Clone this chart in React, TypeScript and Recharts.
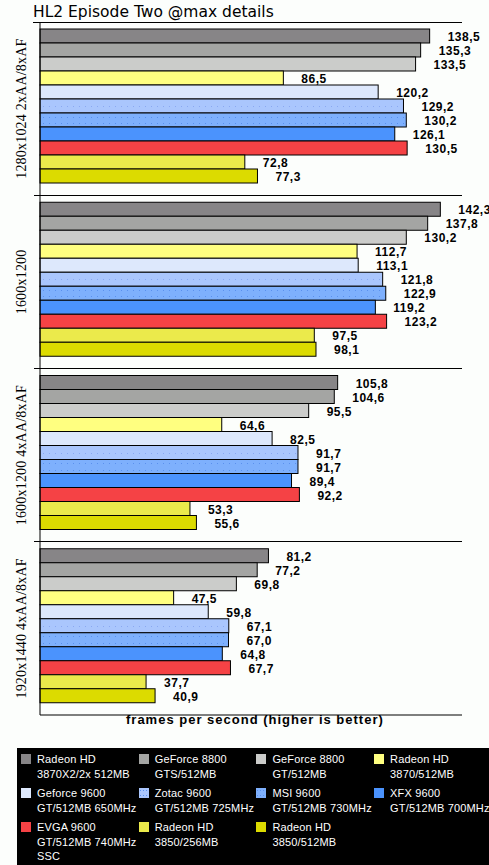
import { BarChart, Bar, XAxis, YAxis, LabelList } from "recharts";

// resolutions / settings, top to bottom
const categories = [
  "1280x1024 2xAA/8xAF",
  "1600x1200",
  "1600x1200 4xAA/8xAF",
  "1920x1440 4xAA/8xAF",
];

// fps per card, one value per category
const radeon3870x2 = [138.5, 142.3, 105.8, 81.2];
const gf8800gts = [135.3, 137.8, 104.6, 77.2];
const gf8800gt = [133.5, 130.2, 95.5, 69.8];
const radeon3870 = [86.5, 112.7, 64.6, 47.5];
const gf9600 = [120.2, 113.1, 82.5, 59.8];
const zotac9600 = [129.2, 121.8, 91.7, 67.1];
const msi9600 = [130.2, 122.9, 91.7, 67.0];
const xfx9600 = [126.1, 119.2, 89.4, 64.8];
const evga9600 = [130.5, 123.2, 92.2, 67.7];
const radeon3850_256 = [72.8, 97.5, 53.3, 37.7];
const radeon3850_512 = [77.3, 98.1, 55.6, 40.9];

const series = [
  { key: "r3870x2", label: ["Radeon HD", "3870X2/2x 512MB"], values: radeon3870x2, color: "#878587", dots: 0 },
  { key: "gts", label: ["GeForce 8800", "GTS/512MB"], values: gf8800gts, color: "#a4a5a3", dots: 0 },
  { key: "gt", label: ["GeForce 8800", "GT/512MB"], values: gf8800gt, color: "#cbccca", dots: 0 },
  { key: "r3870", label: ["Radeon HD", "3870/512MB"], values: radeon3870, color: "#ffff80", dots: 0 },
  { key: "g9600", label: ["Geforce 9600", "GT/512MB 650MHz"], values: gf9600, color: "#dde8fc", dots: 0 },
  { key: "zotac", label: ["Zotac 9600", "GT/512MB 725MHz"], values: zotac9600, color: "#aac6fd", dots: 1 },
  { key: "msi", label: ["MSI 9600", "GT/512MB 730MHz"], values: msi9600, color: "#7eb0fd", dots: 2 },
  { key: "xfx", label: ["XFX 9600", "GT/512MB 700MHz"], values: xfx9600, color: "#4b93fd", dots: 0 },
  { key: "evga", label: ["EVGA 9600", "GT/512MB 740MHz", "SSC"], values: evga9600, color: "#f54245", dots: 0 },
  { key: "r3850a", label: ["Radeon HD", "3850/256MB"], values: radeon3850_256, color: "#ebea4b", dots: 0 },
  { key: "r3850b", label: ["Radeon HD", "3850/512MB"], values: radeon3850_512, color: "#dcdb00", dots: 0 },
];

const data = categories.map((name, i) => {
  const row: Record<string, string | number> = { name };
  series.forEach(s => { row[s.key] = s.values[i]; });
  return row;
});

const CHART_W = 489;
const CHART_H = 730;
const M_TOP = 22;
const M_RIGHT = 27;
const AXIS_W = 40;
const XAXIS_H = 15;
const PLOT_RIGHT = CHART_W - M_RIGHT;
const BAND = (CHART_H - M_TOP - XAXIS_H) / categories.length;

function CategoryTick(props: any) {
  const { y, payload, index } = props;
  const top = Math.floor(y - BAND / 2) + 0.5;
  const bottom = Math.floor(y + BAND / 2) + 0.5;
  return (
    <g>
      <text
        x={21}
        y={y}
        transform={`rotate(-90, 21, ${y})`}
        textAnchor="middle"
        dominantBaseline="central"
        fontFamily="Liberation Serif, serif"
        fontSize={14}
        letterSpacing={0.2}
        fill="#000"
      >
        {payload.value}
      </text>
      {index === 0 && <line x1={33} x2={PLOT_RIGHT} y1={top} y2={top} stroke="#000" />}
      {index < categories.length - 1 && (
        <line x1={34} x2={PLOT_RIGHT} y1={bottom} y2={bottom} stroke="#000" />
      )}
    </g>
  );
}

function BarShape(props: any) {
  const { x, y, width, height, fill, dots } = props;
  const rows: number[] = dots === 1 ? [y + height / 2] : dots === 2 ? [y + 3.5, y + height - 4] : [];
  return (
    <g>
      <rect x={x} y={y} width={width} height={height} fill={fill} stroke="#000" strokeWidth={1} />
      {rows.map((ry, i) => (
        <line
          key={i}
          x1={x + 3}
          x2={x + width - 2}
          y1={Math.round(ry) + 0.5}
          y2={Math.round(ry) + 0.5}
          stroke={dots === 1 ? "#8aa8f2" : "#5a90ee"}
          strokeDasharray="1 5"
        />
      ))}
    </g>
  );
}

function ValueLabel(props: any) {
  const { x, y, width, height, value } = props;
  return (
    <text
      x={x + width + 18}
      y={y + height / 2 + 1}
      dominantBaseline="central"
      fontFamily="Liberation Sans, Arial, sans-serif"
      fontWeight="bold"
      fontSize={12}
      letterSpacing={0.5}
      fill="#000"
    >
      {Number(value).toFixed(1).replace(".", ",")}
    </text>
  );
}

function LegendBox() {
  return (
    <div
      style={{
        position: "absolute",
        left: 17,
        top: 748,
        width: 472,
        height: 117,
        background: "#000",
      }}
    >
      {series.map((s, i) => {
        const col = i % 4;
        const row = Math.floor(i / 4);
        return (
          <div
            key={s.key}
            style={{
              position: "absolute",
              left: 4 + col * 117.7,
              top: 6 + row * 34,
              display: "flex",
            }}
          >
            <div
              style={{
                width: 10,
                height: 10,
                background: s.color,
                backgroundImage: s.dots
                  ? "radial-gradient(circle, #5a90ee 0.6px, transparent 0.8px)"
                  : undefined,
                backgroundSize: s.dots ? "3px 5px" : undefined,
              }}
            />
            <div
              style={{
                marginLeft: 6,
                marginTop: -2,
                color: "#fff",
                fontFamily: "Liberation Sans, Arial, sans-serif",
                fontSize: 11,
                letterSpacing: 0.15,
                lineHeight: "14.5px",
                whiteSpace: "nowrap",
              }}
            >
              {s.label.map((l, j) => (
                <div key={j}>{l}</div>
              ))}
            </div>
          </div>
        );
      })}
    </div>
  );
}

export default function App() {
  return (
    <div
      style={{
        position: "absolute",
        left: 0,
        top: 0,
        width: 489,
        height: 865,
        background: "#fcfefc",
        overflow: "hidden",
      }}
    >
      <div
        style={{
          position: "absolute",
          left: 33,
          top: 3,
          fontFamily: "DejaVu Sans, Verdana, sans-serif",
          fontSize: 15.5,
          lineHeight: "18px",
          color: "#000",
          whiteSpace: "nowrap",
        }}
      >
        HL2 Episode Two @max details
      </div>
      <div style={{ position: "absolute", left: 0, top: 0 }}>
        <BarChart
          width={CHART_W}
          height={CHART_H}
          data={data}
          layout="vertical"
          margin={{ top: M_TOP, right: M_RIGHT, left: 0, bottom: 0 }}
          barCategoryGap={7}
          barGap={0}
        >
          <XAxis
            type="number"
            domain={[0, 150]}
            height={XAXIS_H}
            tick={false}
            tickLine={false}
            axisLine={{ stroke: "#000" }}
          />
          <YAxis
            type="category"
            dataKey="name"
            width={AXIS_W}
            tickLine={false}
            axisLine={{ stroke: "#000" }}
            tick={<CategoryTick />}
            interval={0}
          />
          {series.map(s => (
            <Bar
              key={s.key}
              dataKey={s.key}
              fill={s.color}
              isAnimationActive={false}
              shape={(p: any) => <BarShape {...p} dots={s.dots} />}
            >
              <LabelList dataKey={s.key} content={<ValueLabel />} />
            </Bar>
          ))}
        </BarChart>
      </div>
      <div
        style={{
          position: "absolute",
          left: 126,
          top: 712,
          fontFamily: "Liberation Sans, Arial, sans-serif",
          fontWeight: "bold",
          fontSize: 13,
          letterSpacing: 1,
          color: "#000",
          whiteSpace: "nowrap",
        }}
      >
        frames per second (higher is better)
      </div>
      <LegendBox />
    </div>
  );
}
